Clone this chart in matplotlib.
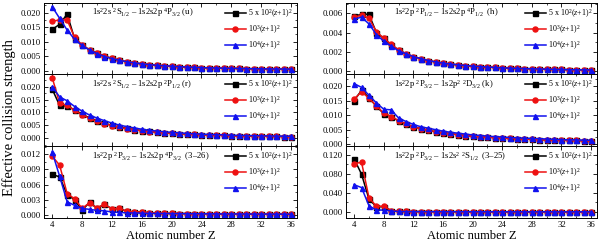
import matplotlib
matplotlib.use("Agg")
import matplotlib.pyplot as plt
from matplotlib.ticker import MultipleLocator, FormatStrFormatter

plt.rcParams['font.family'] = ['Liberation Serif', 'DejaVu Serif']
plt.rcParams['mathtext.fontset'] = 'custom'
plt.rcParams['mathtext.rm'] = 'Liberation Serif'
plt.rcParams['mathtext.it'] = 'Liberation Serif:italic'

Z = list(range(4, 37))

series_labels = ["5 x 10$^2$($z$+1)$^2$", "10$^3$($z$+1)$^2$", "10$^4$($z$+1)$^2$"]

# panel (u)
u_black = [0.0142, 0.0160, 0.0195, 0.0110, 0.0088, 0.0072, 0.0060, 0.0050, 0.0043, 0.0036, 0.0031,
           0.0027, 0.0024, 0.0021, 0.0019, 0.0017, 0.0016, 0.0014, 0.0013, 0.0012, 0.0011, 0.0010,
           0.00095, 0.0009, 0.00085, 0.0008, 0.00075, 0.0007, 0.00068, 0.00065, 0.00062, 0.0006, 0.00058]
u_red = [0.0170, 0.0175, 0.0175, 0.0115, 0.0089, 0.0072, 0.0060, 0.0050, 0.0043, 0.0036, 0.0031,
         0.0027, 0.0024, 0.0021, 0.0019, 0.0017, 0.0016, 0.0014, 0.0013, 0.0012, 0.0011, 0.0010,
         0.00095, 0.0009, 0.00085, 0.0008, 0.00075, 0.0007, 0.00068, 0.00065, 0.00062, 0.0006, 0.00058]
u_blue = [0.0220, 0.0180, 0.0140, 0.0108, 0.0087, 0.0071, 0.0059, 0.0049, 0.0042, 0.0036, 0.0031,
          0.0027, 0.0024, 0.0021, 0.0019, 0.0017, 0.0016, 0.0014, 0.0013, 0.0012, 0.0011, 0.0010,
          0.00095, 0.0009, 0.00085, 0.0008, 0.00075, 0.0007, 0.00068, 0.00065, 0.00062, 0.0006, 0.00058]

# panel (r)
r_black = [0.0190, 0.0127, 0.0125, 0.0110, 0.0093, 0.0079, 0.0068, 0.0058, 0.0050, 0.0043, 0.0038,
           0.0033, 0.0030, 0.0027, 0.0024, 0.0022, 0.0020, 0.0018, 0.0017, 0.0015, 0.0014, 0.0013,
           0.0012, 0.0011, 0.0010, 0.00095, 0.0009, 0.00085, 0.0008, 0.00075, 0.0007, 0.00068, 0.00065]
r_red = [0.0235, 0.0135, 0.0127, 0.0108, 0.0091, 0.0077, 0.0066, 0.0057, 0.0049, 0.0042, 0.0037,
         0.0033, 0.0029, 0.0026, 0.0024, 0.0022, 0.0020, 0.0018, 0.0017, 0.0015, 0.0014, 0.0013,
         0.0012, 0.0011, 0.0010, 0.00095, 0.0009, 0.00085, 0.0008, 0.00075, 0.0007, 0.00068, 0.00065]
r_blue = [0.0200, 0.0160, 0.0145, 0.0123, 0.0105, 0.0090, 0.0078, 0.0068, 0.0059, 0.0051, 0.0045,
          0.0040, 0.0035, 0.0031, 0.0028, 0.0025, 0.0023, 0.0021, 0.0019, 0.0017, 0.0016, 0.0015,
          0.0014, 0.0013, 0.0012, 0.0011, 0.00105, 0.0010, 0.00095, 0.0009, 0.00085, 0.0008, 0.00078]

# panel (3-26)
t26_black = [0.0080, 0.0075, 0.0040, 0.0030, 0.0009, 0.0025, 0.0013, 0.0021, 0.0012, 0.0013, 0.0007,
             0.0006, 0.0006, 0.0004, 0.00035, 0.0003, 0.0003, 0.00028, 0.00027, 0.00026, 0.00025, 0.00024,
             0.00023, 0.00022, 0.00021, 0.0002, 0.0002, 0.00019, 0.00018, 0.00018, 0.00017, 0.00017, 0.00016]
t26_red = [0.0116, 0.0098, 0.0042, 0.0032, 0.0013, 0.0024, 0.0014, 0.0021, 0.0012, 0.0013, 0.0007,
           0.0006, 0.0006, 0.0004, 0.00035, 0.0003, 0.0003, 0.00028, 0.00027, 0.00026, 0.00025, 0.00024,
           0.00023, 0.00022, 0.00021, 0.0002, 0.0002, 0.00019, 0.00018, 0.00018, 0.00017, 0.00017, 0.00016]
t26_blue = [0.0124, 0.0076, 0.0026, 0.0019, 0.0013, 0.0011, 0.0009, 0.0008, 0.0006, 0.0005, 0.0004,
            0.0004, 0.00035, 0.0003, 0.0003, 0.00028, 0.00027, 0.00026, 0.00025, 0.00024, 0.00023, 0.00022,
            0.00021, 0.0002, 0.0002, 0.00019, 0.00018, 0.00018, 0.00017, 0.00017, 0.00016, 0.00016, 0.00015]

# panel (h)
h_black = [0.0057, 0.0059, 0.0059, 0.0040, 0.0034, 0.0027, 0.0022, 0.0018, 0.0015, 0.0013, 0.0011,
           0.00095, 0.00083, 0.00073, 0.00065, 0.00058, 0.00052, 0.00047, 0.00042, 0.00038, 0.00034, 0.00031,
           0.00028, 0.00026, 0.00024, 0.00022, 0.0002, 0.00018, 0.00017, 0.00015, 0.00014, 0.00013, 0.00012]
h_red = [0.0056, 0.0058, 0.0055, 0.0041, 0.0034, 0.0028, 0.0022, 0.0018, 0.0015, 0.0013, 0.0011,
         0.00095, 0.00083, 0.00073, 0.00065, 0.00058, 0.00052, 0.00047, 0.00042, 0.00038, 0.00034, 0.00031,
         0.00028, 0.00026, 0.00024, 0.00022, 0.0002, 0.00018, 0.00017, 0.00015, 0.00014, 0.00013, 0.00012]
h_blue = [0.0054, 0.0056, 0.0049, 0.0038, 0.0031, 0.0026, 0.0021, 0.0018, 0.0015, 0.0013, 0.0011,
          0.00095, 0.00083, 0.00073, 0.00065, 0.00058, 0.00052, 0.00047, 0.00042, 0.00038, 0.00034, 0.00031,
          0.00028, 0.00026, 0.00024, 0.00022, 0.0002, 0.00018, 0.00017, 0.00015, 0.00014, 0.00013, 0.00012]

# panel (k)
k_black = [0.0150, 0.0185, 0.0160, 0.0130, 0.0105, 0.0095, 0.0080, 0.0070, 0.0060, 0.0053, 0.0048,
           0.0043, 0.0039, 0.0036, 0.0033, 0.0030, 0.0028, 0.0026, 0.0024, 0.0023, 0.0021, 0.0020,
           0.0019, 0.0018, 0.0017, 0.0016, 0.0015, 0.0015, 0.0014, 0.0013, 0.0013, 0.0012, 0.0012]
k_red = [0.0155, 0.0180, 0.0158, 0.0132, 0.0107, 0.0095, 0.0081, 0.0070, 0.0060, 0.0053, 0.0048,
         0.0043, 0.0039, 0.0036, 0.0033, 0.0030, 0.0028, 0.0026, 0.0024, 0.0023, 0.0021, 0.0020,
         0.0019, 0.0018, 0.0017, 0.0016, 0.0015, 0.0015, 0.0014, 0.0013, 0.0013, 0.0012, 0.0012]
k_blue = [0.0208, 0.0195, 0.0168, 0.0142, 0.0120, 0.0118, 0.0090, 0.0078, 0.0068, 0.0060, 0.0055,
          0.0050, 0.0045, 0.0041, 0.0038, 0.0035, 0.0032, 0.0030, 0.0028, 0.0026, 0.0025, 0.0023,
          0.0022, 0.0021, 0.0020, 0.0019, 0.0018, 0.0017, 0.0016, 0.0015, 0.0015, 0.0014, 0.0014]

# panel (3-25)
t25_black = [0.111, 0.079, 0.027, 0.011, 0.011, 0.003, 0.0015, 0.0010, 0.0009, 0.0008, 0.0008,
             0.0007, 0.0007, 0.0006, 0.0006, 0.0006, 0.0005, 0.0005, 0.0005, 0.0005, 0.0004, 0.0004,
             0.0004, 0.0004, 0.0004, 0.0004, 0.0003, 0.0003, 0.0003, 0.0003, 0.0003, 0.0003, 0.0003]
t25_red = [0.101, 0.104, 0.030, 0.012, 0.012, 0.003, 0.0015, 0.0010, 0.0009, 0.0008, 0.0008,
           0.0007, 0.0007, 0.0006, 0.0006, 0.0006, 0.0005, 0.0005, 0.0005, 0.0005, 0.0004, 0.0004,
           0.0004, 0.0004, 0.0004, 0.0004, 0.0003, 0.0003, 0.0003, 0.0003, 0.0003, 0.0003, 0.0003]
t25_blue = [0.057, 0.051, 0.013, 0.004, 0.004, 0.002, 0.0010, 0.0008, 0.0007, 0.0007, 0.0006,
            0.0006, 0.0006, 0.0005, 0.0005, 0.0005, 0.0005, 0.0004, 0.0004, 0.0004, 0.0004, 0.0004,
            0.0003, 0.0003, 0.0003, 0.0003, 0.0003, 0.0003, 0.0003, 0.0003, 0.0003, 0.0003, 0.0003]

titles = [
    "1s$^2$2s $^2$S$_{1/2}$ – 1s2s2p $^4$P$_{3/2}$ (u)",
    "1s$^2$2s $^2$S$_{1/2}$ – 1s2s2p $^2$P$_{1/2}$ (r)",
    "1s$^2$2p $^2$P$_{3/2}$ – 1s2s2p $^4$P$_{3/2}$  (3–26)",
    "1s$^2$2p $^2$P$_{1/2}$ – 1s2s2p $^4$P$_{1/2}$  (h)",
    "1s$^2$2p $^2$P$_{3/2}$ – 1s2p$^2$ $^2$D$_{3/2}$ (k)",
    "1s$^2$2p $^2$P$_{3/2}$ – 1s2s$^2$ $^2$S$_{1/2}$  (3–25)",
]

panel_data = [
    (u_black, u_red, u_blue),
    (r_black, r_red, r_blue),
    (t26_black, t26_red, t26_blue),
    (h_black, h_red, h_blue),
    (k_black, k_red, k_blue),
    (t25_black, t25_red, t25_blue),
]

ylims = [(-0.0011, 0.0233), (-0.003, 0.0249), (-0.0006, 0.0136),
         (-0.0003, 0.00707), (-0.0006, 0.0241), (-0.0126, 0.138)]
ymaj = [0.005, 0.005, 0.003, 0.002, 0.005, 0.040]
yfmt = ['%.3f'] * 6

colors = ['#000000', '#ee1111', '#1111ee']
markers = ['s', 'o', '^']

W, H = 600, 242
fig = plt.figure(figsize=(6.0, 2.42), dpi=100)

col_lr = [(44, 297), (346, 597)]
row_tb = [(3, 74), (74, 146), (146, 218)]

axes = []
for c in range(2):
    for r in range(3):
        l, rr = col_lr[c]
        t, b = row_tb[r]
        ax = fig.add_axes([l / W, 1 - b / H, (rr - l) / W, (b - t) / H])
        axes.append(ax)

for i, ax in enumerate(axes):
    for s in range(3):
        ax.plot(Z, panel_data[i][s], color=colors[s], marker=markers[s], ms=3.6, lw=1.1,
                label=series_labels[s])
    ax.set_xlim(2.9, 36.8)
    ax.set_ylim(*ylims[i])
    ax.xaxis.set_major_locator(MultipleLocator(4))
    ax.xaxis.set_minor_locator(MultipleLocator(2))
    ax.yaxis.set_major_locator(MultipleLocator(ymaj[i]))
    ax.yaxis.set_minor_locator(MultipleLocator(ymaj[i] / 2))
    ax.yaxis.set_major_formatter(FormatStrFormatter(yfmt[i]))
    ax.tick_params(which='both', direction='in', top=True, right=True, labelsize=6.3, pad=2)
    ax.tick_params(which='major', length=3, width=0.6)
    ax.tick_params(which='minor', length=1.6, width=0.5)
    for sp in ax.spines.values():
        sp.set_linewidth(0.7)
    if i % 3 != 2:
        ax.tick_params(labelbottom=False)
    ax.text(0.19, 0.86, titles[i], transform=ax.transAxes, fontsize=6.2, ha='left', va='center')
    ax.legend(loc='upper right', frameon=False, fontsize=5.8, handlelength=2.6,
              handletextpad=0.3, labelspacing=0.4, borderaxespad=0.15)

for c in range(2):
    l, rr = col_lr[c]
    fig.text((l + rr) / 2 / W, 1 - 236 / H, "Atomic number Z", fontsize=9, ha='center', va='center')

fig.text(9 / W, 1 - 118 / H, "Effective collision strength", fontsize=10.5, rotation=90,
         ha='center', va='center')

fig.savefig("out.png", dpi=100)
